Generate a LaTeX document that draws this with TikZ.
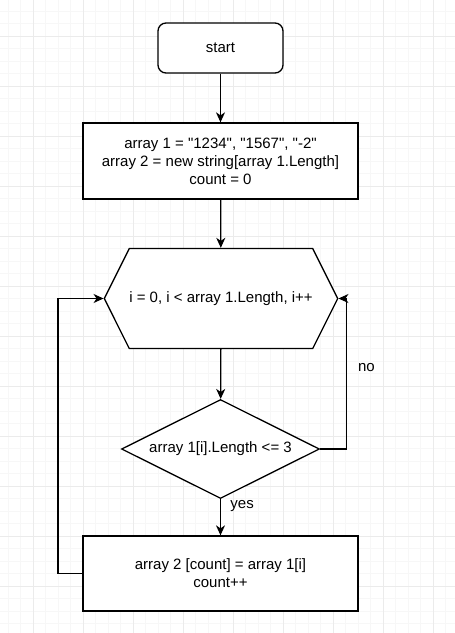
\documentclass[tikz,border=0pt]{standalone}
\usepackage{fontspec}
\setmainfont{Liberation Sans}
\usetikzlibrary{shapes.geometric,shapes.symbols,arrows.meta}

\begin{document}
\begin{tikzpicture}[x=1pt, y=-1pt, line width=1.3pt,
  font=\fontsize{15}{18}\selectfont,
  >={Stealth[length=10pt,width=9pt,inset=3pt]},
  box/.style = {draw, fill=white, align=center, inner sep=0pt,
                minimum width=275pt},
  startbox/.style = {box, rounded corners=8pt, minimum width=125pt, minimum height=50pt},
  loopbox/.style = {box, shape=signal, signal to=west and east,
                    signal pointer angle=126.87, minimum width=212pt, minimum height=100pt},
  condbox/.style = {box, shape=diamond, shape aspect=2, minimum width=198pt, minimum height=99pt},
  minorgrid/.style = {line width=0.8pt, gray!6},
  majorgrid/.style = {line width=0.8pt, gray!16}]
  \useasboundingbox (0,0) rectangle (455,633);
  \fill[white] (0,0) rectangle (455,633);

  % background grid
  \foreach \x in {8.3,20.8,...,455} \draw[minorgrid] (\x,0) -- (\x,633);
  \foreach \y in {11,23.5,...,633} \draw[minorgrid] (0,\y) -- (455,\y);
  \foreach \x in {33.3,83.3,...,455} \draw[majorgrid] (\x,0) -- (\x,633);
  \foreach \y in {36,86,...,633} \draw[majorgrid] (0,\y) -- (455,\y);

  \node[startbox] (start) at (220.5,48) {start};
  \node[box, minimum height=76pt] (init) at (220.5,161)
    {array 1 = \textquotedbl 1234\textquotedbl, \textquotedbl 1567\textquotedbl, \textquotedbl -2\textquotedbl\\array 2 = new string[array 1.Length]\\count = 0};
  \node[loopbox] (loop) at (221,298.5) {i = 0, i < array 1.Length, i++};
  \node[condbox] (cond) at (220.5,449) {array 1[i].Length <= 3};
  \node[box, minimum height=75pt] (body) at (220.5,573.5)
    {array 2 [count] = array 1[i]\\count++};

  \draw[->] (start) -- (init);
  \draw[->] (init) -- (loop);
  \draw[->] (loop) -- (cond);
  \draw[->] (cond) -- node[pos=0.2, right=6pt]{yes} (body);
  \draw[->] (cond.east) -- ++(26,0) |- node[pos=0.27, right=8pt]{no} (loop.east);
  \draw[->] (body.west) -- ++(-24.5,0) |- (loop.west);
\end{tikzpicture}
\end{document}
